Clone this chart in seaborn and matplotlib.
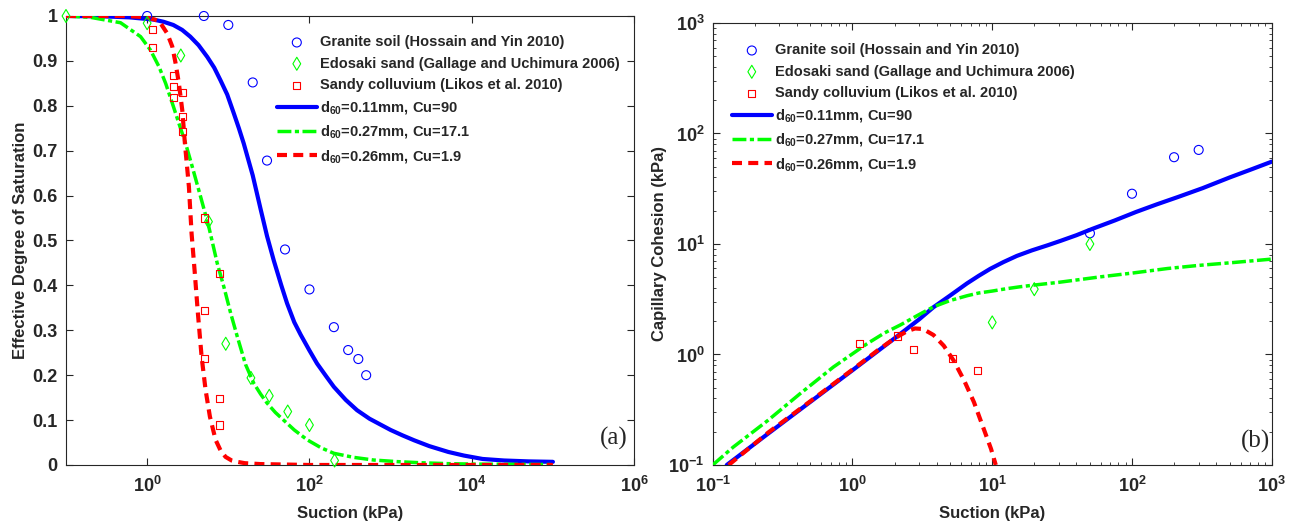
import matplotlib
matplotlib.use("Agg")
import matplotlib.pyplot as plt
import matplotlib.ticker as mticker
import seaborn as sns

# ---------------- data ----------------
# (a) effective degree of saturation vs suction (kPa)
granite_suction = [1, 5, 10, 20, 30, 50, 100, 200, 300, 400, 500]
granite_se = [1.0, 1.0, 0.98, 0.852, 0.678, 0.48, 0.391, 0.307, 0.256, 0.236, 0.20]

edosaki_suction = [0.1, 1, 2.6, 5.7, 9.3, 19, 32, 54, 100, 204]
edosaki_se = [1.0, 0.984, 0.912, 0.542, 0.27, 0.194, 0.154, 0.119, 0.089, 0.01]

colluvium_suction = [1.15, 1.15, 2.1, 2.1, 2.1, 2.7, 2.75, 2.75, 5.1, 5.1, 5.1, 7.85, 7.85, 7.85]
colluvium_se = [0.969, 0.93, 0.867, 0.843, 0.818, 0.829, 0.777, 0.742, 0.55, 0.345, 0.238, 0.427, 0.149, 0.089]

# model curves (a)
blue_s = [0.1, 0.3, 0.6, 1.2, 1.6, 2.1, 2.7, 3.4, 4.3, 5.5, 6.7, 8.0, 9.7, 11.7, 13.5, 15.5, 20,
          25, 30, 36.4, 45, 53, 65, 78, 100, 124, 160, 200, 280, 386, 550, 750, 1000, 1400, 1950,
          3000, 5150, 8000, 13600, 25000, 50000, 100000]
blue_se = [1.0, 0.999, 0.997, 0.992, 0.987, 0.98, 0.969, 0.954, 0.935, 0.909, 0.885, 0.857, 0.825,
           0.783, 0.75, 0.716, 0.645, 0.57, 0.51, 0.455, 0.40, 0.36, 0.318, 0.29, 0.255, 0.226,
           0.198, 0.174, 0.145, 0.122, 0.103, 0.09, 0.078, 0.066, 0.055, 0.042, 0.029, 0.021,
           0.0134, 0.010, 0.008, 0.007]

green_s = [0.1, 0.2, 0.47, 0.83, 1.1, 1.4, 1.69, 2.04, 2.46, 2.98, 3.6, 4.55, 5.76, 7.31, 8.81,
           10.7, 12.9, 16.3, 20.6, 25, 30, 38, 48, 65, 94, 140, 200, 350, 620, 1200, 2340, 5000,
           10000, 30000, 100000]
green_se = [1.0, 0.997, 0.985, 0.954, 0.924, 0.887, 0.85, 0.806, 0.761, 0.716, 0.664, 0.598, 0.53,
            0.449, 0.397, 0.338, 0.286, 0.224, 0.182, 0.158, 0.138, 0.117, 0.10, 0.078, 0.056,
            0.038, 0.026, 0.017, 0.011, 0.0075, 0.005, 0.003, 0.002, 0.0015, 0.001]

red_s = [0.1, 0.57, 1.0, 1.4, 1.77, 2.04, 2.24, 2.46, 2.71, 2.92, 3.27, 3.53, 3.84, 4.22, 4.69,
         5.25, 5.93, 6.97, 8.0, 9.25, 11, 12.9, 16, 25, 100, 1000, 100000]
red_se = [1.0, 1.0, 0.997, 0.989, 0.961, 0.932, 0.895, 0.85, 0.79, 0.716, 0.62, 0.515, 0.434,
          0.338, 0.241, 0.167, 0.108, 0.056, 0.033, 0.018, 0.010, 0.007, 0.004, 0.002, 0.0, 0.0, 0.0]

# (b) capillary cohesion (kPa) vs suction (kPa)
granite_suction_b = [50, 100, 200, 300]
granite_c = [12.5, 28.5, 61, 71]
edosaki_suction_b = [10, 20, 50]
edosaki_c = [1.95, 3.9, 10]
colluvium_suction_b = [1.12, 2.09, 2.74, 5.2, 7.8]
colluvium_c = [1.26, 1.47, 1.12, 0.925, 0.72]

blue_s_b = [0.126, 0.25, 0.5, 1.0, 2.0, 3.0, 3.8, 5.0, 6.6, 8.0, 9.66, 12, 15, 19.2, 25, 31, 40,
            52, 75, 107, 150, 213, 320, 500, 720, 1000]
blue_c_b = [0.1, 0.193, 0.373, 0.72, 1.4, 2.08, 2.68, 3.42, 4.4, 5.15, 5.95, 6.85, 7.8, 8.75,
            9.75, 10.7, 12.0, 13.7, 16.3, 19.5, 22.8, 26.6, 32.0, 40.0, 47.5, 55.6]

green_s_b = [0.1, 0.14, 0.25, 0.42, 0.73, 1.27, 1.7, 2.2, 3.0, 3.8, 5.0, 6.6, 8.0, 10, 12.5, 15.8,
             20, 30, 60, 100, 180, 300, 535, 1000]
green_c_b = [0.1, 0.145, 0.255, 0.44, 0.77, 1.25, 1.57, 1.85, 2.3, 2.7, 3.08, 3.4, 3.6, 3.75,
             3.93, 4.1, 4.25, 4.5, 5.05, 5.45, 6.0, 6.4, 6.8, 7.3]

red_s_b = [0.13, 0.25, 0.5, 1.0, 1.5, 2.0, 2.45, 2.8, 3.2, 3.8, 4.5, 5.3, 6.3, 7.4, 8.6, 9.8, 10.6]
red_c_b = [0.1, 0.197, 0.378, 0.73, 1.08, 1.4, 1.62, 1.72, 1.70, 1.5, 1.2, 0.88, 0.58, 0.37,
           0.22, 0.14, 0.1]

left_yticks = [0, 0.1, 0.2, 0.3, 0.4, 0.5, 0.6, 0.7, 0.8, 0.9, 1.0]
left_yticklabels = ["0", "0.1", "0.2", "0.3", "0.4", "0.5", "0.6", "0.7", "0.8", "0.9", "1"]
left_xticks = [1, 1e2, 1e4, 1e6]

data_labels = ["Granite soil (Hossain and Yin 2010)",
               "Edosaki sand (Gallage and Uchimura 2006)",
               "Sandy colluvium (Likos et al. 2010)"]
curve_labels = [r"d$_{60}$=0.11mm, Cu=90",
                r"d$_{60}$=0.27mm, Cu=17.1",
                r"d$_{60}$=0.26mm, Cu=1.9"]

# ---------------- style ----------------
sns.set_style("ticks")
plt.rcParams["font.family"] = ["Liberation Sans", "DejaVu Sans"]
plt.rcParams["font.weight"] = "bold"
plt.rcParams["axes.labelweight"] = "bold"
plt.rcParams["mathtext.fontset"] = "custom"
plt.rcParams["mathtext.rm"] = "Liberation Sans:bold"
plt.rcParams["mathtext.bf"] = "Liberation Sans:bold"
plt.rcParams["mathtext.it"] = "Liberation Sans:bold:italic"
plt.rcParams["mathtext.default"] = "rm"

BLUE, GREEN, RED = "#0000ff", "#00ff00", "#ff0000"
SPINE = "#262626"

fig = plt.figure(figsize=(12.94, 5.26), dpi=100)
ax1 = fig.add_axes([0.0510, 0.1160, 0.4390, 0.8536])
ax2 = fig.add_axes([0.5508, 0.1160, 0.4320, 0.8403])


def draw(ax, pts, curves):
    for (x, y, m, s, col, lab) in pts:
        sns.scatterplot(x=x, y=y, ax=ax, marker=m, s=s, facecolor="none", edgecolor=col,
                        linewidth=0.8, label=lab, clip_on=False, zorder=4)
    for (x, y, col, lw, dash, lab) in curves:
        sns.lineplot(x=x, y=y, ax=ax, color=col, linewidth=lw, label=lab,
                     estimator=None, sort=False, zorder=3)
        ln = ax.lines[-1]
        ln.set_solid_joinstyle("round")
        if dash is not None:
            ln.set_dashes(dash)


pts_a = [(granite_suction, granite_se, "o", 42, BLUE, data_labels[0]),
         (edosaki_suction, edosaki_se, "d", 44, GREEN, data_labels[1]),
         (colluvium_suction, colluvium_se, "s", 26, RED, data_labels[2])]
curves_a = [(blue_s, blue_se, BLUE, 3.0, None, curve_labels[0]),
            (green_s, green_se, GREEN, 2.5, [4, 1, 1.2, 1], curve_labels[1]),
            (red_s, red_se, RED, 3.0, [2.4, 1.5], curve_labels[2])]
pts_b = [(granite_suction_b, granite_c, "o", 42, BLUE, data_labels[0]),
         (edosaki_suction_b, edosaki_c, "d", 44, GREEN, data_labels[1]),
         (colluvium_suction_b, colluvium_c, "s", 26, RED, data_labels[2])]
curves_b = [(blue_s_b, blue_c_b, BLUE, 3.0, None, curve_labels[0]),
            (green_s_b, green_c_b, GREEN, 2.5, [4, 1, 1.2, 1], curve_labels[1]),
            (red_s_b, red_c_b, RED, 3.0, [2.4, 1.5], curve_labels[2])]

draw(ax1, pts_a, curves_a)
draw(ax2, pts_b, curves_b)

# ---- axes (a) ----
ax1.set_xscale("log")
ax1.set_xlim(0.1, 1e6)
ax1.set_ylim(0, 1)
ax1.set_xticks(left_xticks)
ax1.xaxis.set_minor_locator(mticker.NullLocator())
ax1.set_yticks(left_yticks)
ax1.set_yticklabels(left_yticklabels)
ax1.set_xlabel("Suction (kPa)", fontsize=12, labelpad=7)
ax1.set_ylabel("Effective Degree of Saturation", fontsize=12, labelpad=3)
ax1.text(0.989, 0.06, "(a)", transform=ax1.transAxes, ha="right", va="center",
         fontsize=18, family="Liberation Serif", fontweight="normal")

# ---- axes (b) ----
ax2.set_xscale("log")
ax2.set_yscale("log")
ax2.set_xlim(0.1, 1e3)
ax2.set_ylim(0.1, 1e3)
ax2.xaxis.set_major_locator(mticker.LogLocator(base=10, numticks=10))
ax2.yaxis.set_major_locator(mticker.LogLocator(base=10, numticks=10))
ax2.xaxis.set_minor_locator(mticker.LogLocator(base=10, subs=range(2, 10), numticks=20))
ax2.yaxis.set_minor_locator(mticker.LogLocator(base=10, subs=range(2, 10), numticks=20))
ax2.xaxis.set_minor_formatter(mticker.NullFormatter())
ax2.yaxis.set_minor_formatter(mticker.NullFormatter())
ax2.set_xlabel("Suction (kPa)", fontsize=12, labelpad=7)
ax2.set_ylabel("Capillary Cohesion (kPa)", fontsize=12, labelpad=1)
ax2.text(0.997, 0.054, "(b)", transform=ax2.transAxes, ha="right", va="center",
         fontsize=18, family="Liberation Serif", fontweight="normal")

for ax in (ax1, ax2):
    for sp in ax.spines.values():
        sp.set_color(SPINE)
        sp.set_linewidth(0.8)
    ax.tick_params(which="major", direction="in", top=True, right=True, length=5,
                   width=0.8, color=SPINE, labelsize=13, pad=6)
    ax.tick_params(axis="x", which="major", pad=8)
    ax.tick_params(which="minor", direction="in", top=True, right=True, length=2.5,
                   width=0.6, color=SPINE)
    for t in ax.get_xticklabels() + ax.get_yticklabels():
        t.set_fontweight("bold")
    handles, labels = ax.get_legend_handles_labels()
    order = [labels.index(l) for l in data_labels + curve_labels]
    ax.legend([handles[i] for i in order], [labels[i] for i in order], fontsize=10.5,
              frameon=False, loc="upper left", borderpad=0, borderaxespad=0,
              handlelength=2.75, handletextpad=0.2, labelspacing=0.5, scatterpoints=1)

ax1.get_legend().set_bbox_to_anchor((0.371, 0.957), transform=ax1.transAxes)
ax2.get_legend().set_bbox_to_anchor((0.034, 0.954), transform=ax2.transAxes)

fig.savefig("out.png", dpi=100)
